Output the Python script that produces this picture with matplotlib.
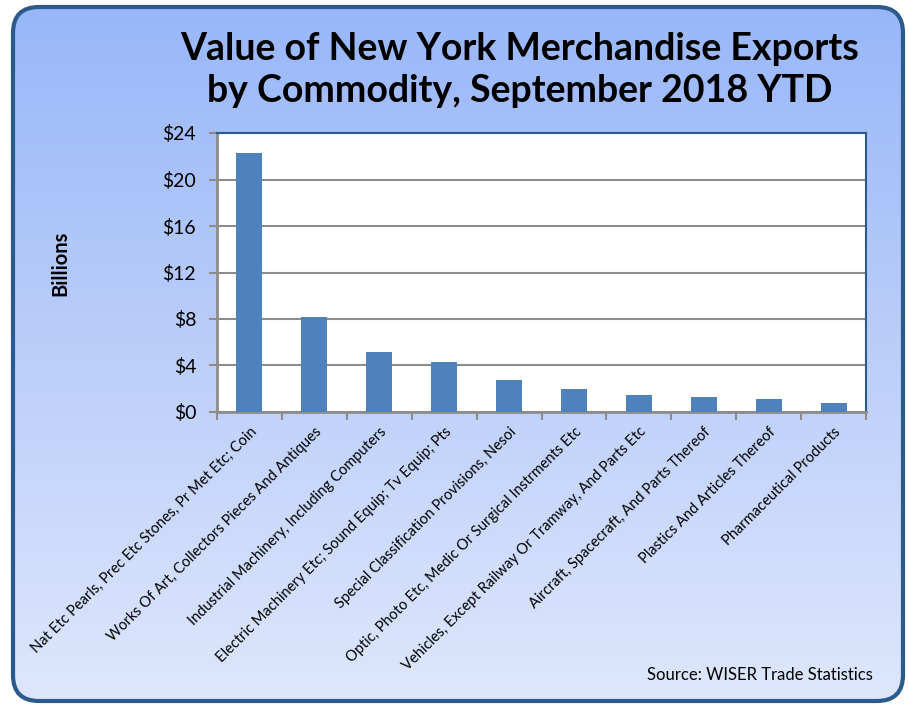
import numpy as np
import matplotlib
matplotlib.use("Agg")
import matplotlib.pyplot as plt
from matplotlib.patches import FancyBboxPatch
from matplotlib.ticker import FuncFormatter

categories = [
    "Nat Etc Pearls, Prec Etc Stones, Pr Met Etc; Coin",
    "Works Of Art, Collectors Pieces And Antiques",
    "Industrial Machinery, Including Computers",
    "Electric Machinery Etc; Sound Equip; Tv Equip; Pts",
    "Special Classification Provisions, Nesoi",
    "Optic, Photo Etc, Medic Or Surgical Instrments Etc",
    "Vehicles, Except Railway Or Tramway, And Parts Etc",
    "Aircraft, Spacecraft, And Parts Thereof",
    "Plastics And Articles Thereof",
    "Pharmaceutical Products",
]
values = [22.25, 8.2, 5.16, 4.3, 2.73, 2.0, 1.43, 1.26, 1.15, 0.77]
yticks = [0, 4, 8, 12, 16, 20, 24]

plt.rcParams['font.family'] = ['Lato', 'DejaVu Sans']

W, H = 908, 705
fig = plt.figure(figsize=(W / 100, H / 100), dpi=100)

# Background with gradient and rounded border
bg = fig.add_axes([0, 0, 1, 1], zorder=-10)
bg.set_xlim(0, W)
bg.set_ylim(H, 0)
bg.axis('off')
top_c = np.array([152, 182, 248]) / 255
bot_c = np.array([222, 231, 252]) / 255
t = np.linspace(0, 1, 256)[:, None]
grad = (top_c[None, :] * (1 - t) + bot_c[None, :] * t)[:, None, :]
grad = np.repeat(grad, 2, axis=1)
im = bg.imshow(grad, extent=[0, W, H, 0], aspect='auto', zorder=0)
box = FancyBboxPatch((13, 7), 890, 694, boxstyle="round,pad=0,rounding_size=26",
                     facecolor='none', edgecolor='#2c5a8c', linewidth=3.0, zorder=2)
bg.add_patch(box)
im.set_clip_path(box)

ax = fig.add_axes([217 / W, 1 - 412 / H, (866 - 217) / W, (412 - 133) / H])
ax.set_facecolor('white')
x = np.arange(len(categories))
ax.bar(x, values, width=0.4, color='#4f81bd', zorder=3)
ax.set_xlim(-0.5, len(categories) - 0.5)
ax.set_ylim(0, 24)
ax.set_yticks(yticks)
ax.yaxis.set_major_formatter(FuncFormatter(lambda v, p: f"${int(v)}"))
ax.grid(axis='y', color='#8c8c8c', linewidth=1.5, zorder=1)
ax.set_axisbelow(True)

ax.set_xticks(x)
ax.set_xticklabels(categories, rotation=45, ha='right', rotation_mode='anchor',
                   fontsize=10.5)
ax.set_xticks(np.arange(-0.5, len(categories)), minor=True)
ax.tick_params(axis='x', which='major', length=0, pad=9)
ax.tick_params(axis='x', which='minor', length=6, width=1.5, color='#8c8c8c', direction='out')
ax.tick_params(axis='y', length=6, width=1.5, color='#8c8c8c', labelsize=14, pad=9)

for s in ['left', 'bottom']:
    ax.spines[s].set_color('#8c8c8c')
    ax.spines[s].set_linewidth(2)
for s in ['top', 'right']:
    ax.spines[s].set_color('#2c5a8c')
    ax.spines[s].set_linewidth(1.5)

fig.text(520 / W, 1 - 70 / H, "Value of New York Merchandise Exports\nby Commodity, September 2018 YTD",
         ha='center', va='center', fontsize=27, fontweight='bold', linespacing=1.3)
fig.text(60 / W, 1 - 263 / H, "Billions", rotation=90, ha='center', va='center',
         fontsize=14.5, fontweight='bold')
fig.text(873 / W, 1 - 675 / H, "Source: WISER Trade Statistics", ha='right', va='center',
         fontsize=12)

fig.savefig("out.png", dpi=100)
